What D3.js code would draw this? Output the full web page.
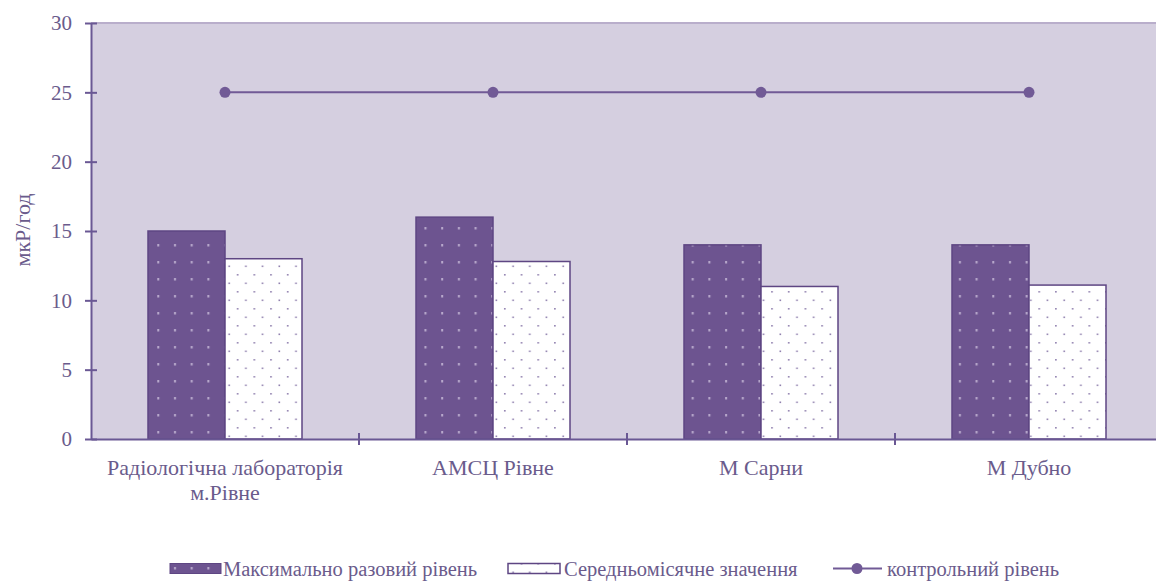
<!DOCTYPE html>
<html><head><meta charset="utf-8">
<script src="https://cdn.jsdelivr.net/npm/d3@7"></script>
<style>body{margin:0;background:#fff}svg{display:block}</style>
</head><body>
<svg id="c" width="1156" height="581"></svg>
<script>
const categories = ["Радіологічна лабораторія\nм.Рівне", "АМСЦ Рівне", "М Сарни", "М Дубно"];
const maxValues = [15, 16, 14, 14];
const meanValues = [13, 12.8, 11, 11.1];
const controlValues = [25, 25, 25, 25];
const yTicks = [0, 5, 10, 15, 20, 25, 30];
const seriesNames = ["Максимально разовий рівень", "Середньомісячне значення", "контрольний рівень"];

const W = 1156, H = 581;
const m = {left: 91, top: 23, bottom: 142};
const plotRight = 91 + 4 * 268;
const svg = d3.select("#c");
const axisCol = "#6a5894", textCol = "#6a5b8c", darkCol = "#6d5490", bgCol = "#d5cfe0";
const FONT = '"Liberation Serif"';

const defs = svg.append("defs");
const p1 = defs.append("pattern").attr("id","pd").attr("patternUnits","userSpaceOnUse")
  .attr("width",16.7).attr("height",17).attr("x",0).attr("y",0);
p1.append("rect").attr("width",16.7).attr("height",17).attr("fill",darkCol);
p1.append("rect").attr("x",7).attr("y",6).attr("width",2).attr("height",2.5).attr("fill","#b8a9cc");
const p2 = defs.append("pattern").attr("id","pw").attr("patternUnits","userSpaceOnUse")
  .attr("width",16.7).attr("height",17);
p2.append("rect").attr("width",16.7).attr("height",17).attr("fill","#fff");
p2.append("rect").attr("x",3).attr("y",2).attr("width",1.6).attr("height",1.6).attr("fill","#8f7fae");
p2.append("rect").attr("x",11.3).attr("y",10.5).attr("width",1.6).attr("height",1.6).attr("fill","#8f7fae");

const x = d3.scaleBand().domain(categories).range([m.left, plotRight]).paddingInner(0).paddingOuter(0);
const y = d3.scaleLinear().domain([0, 30]).range([H - m.bottom, m.top]);

svg.append("rect").attr("x", m.left).attr("y", y(30)).attr("width", plotRight - m.left)
  .attr("height", y(0) - y(30)).attr("fill", bgCol);
svg.append("line").attr("x1", m.left).attr("x2", plotRight).attr("y1", y(30)).attr("y2", y(30))
  .attr("stroke", "#b9aecb").attr("stroke-width", 2);

const bw = 77;
const g = svg.append("g");
categories.forEach((c, i) => {
  const cx = x(c) + x.bandwidth() / 2;
  g.append("rect").attr("x", cx - bw).attr("y", y(maxValues[i])).attr("width", bw)
    .attr("height", y(0) - y(maxValues[i])).attr("fill", "url(#pd)").attr("stroke", "#5e4683").attr("stroke-width", 1.5);
  g.append("rect").attr("x", cx).attr("y", y(meanValues[i])).attr("width", bw)
    .attr("height", y(0) - y(meanValues[i])).attr("fill", "url(#pw)").attr("stroke", "#5e4683").attr("stroke-width", 1.5);
});

const line = d3.line().x((d, i) => x(categories[i]) + x.bandwidth() / 2).y(d => y(d));
svg.append("path").datum(controlValues).attr("d", line).attr("fill", "none")
  .attr("stroke", "#715a96").attr("stroke-width", 2);
svg.selectAll(".dot").data(controlValues).enter().append("circle")
  .attr("cx", (d, i) => x(categories[i]) + x.bandwidth() / 2).attr("cy", d => y(d)).attr("r", 5.5).attr("fill", "#715a96");

// Y axis
const ya = svg.append("g").attr("transform", `translate(${m.left},0)`)
  .call(d3.axisLeft(y).tickValues(yTicks).tickSize(6).tickSizeOuter(0).tickPadding(13));
ya.select(".domain").attr("stroke", axisCol).attr("stroke-width", 2);
ya.selectAll(".tick line").attr("stroke", axisCol).attr("stroke-width", 2).attr("x2", 6).attr("x1", -6);
ya.selectAll(".tick text").attr("fill", textCol).style("font-family", FONT).style("font-size", "21px");

// X axis
const xa = svg.append("g").attr("transform", `translate(0,${y(0)})`)
  .call(d3.axisBottom(x).tickSize(0).tickFormat(""));
xa.select(".domain").attr("stroke", axisCol).attr("stroke-width", 2);
[1, 2, 3].forEach(k => {
  svg.append("line").attr("x1", m.left + k * 268).attr("x2", m.left + k * 268)
    .attr("y1", y(0) - 6).attr("y2", y(0) + 6).attr("stroke", axisCol).attr("stroke-width", 2);
});
categories.forEach(c => {
  const lines = c.split("\n");
  const t = svg.append("text").attr("text-anchor", "middle").attr("fill", textCol)
    .style("font-family", FONT).style("font-size", "22px");
  lines.forEach((l, j) => t.append("tspan").attr("x", x(c) + x.bandwidth() / 2).attr("y", 475 + j * 25).text(l));
});

svg.append("text").attr("transform", "translate(30,230) rotate(-90)").attr("text-anchor", "middle")
  .attr("fill", textCol).style("font-family", FONT).style("font-size", "22px").text("мкР/год");

// Legend
const ly = 568.5;
const lt = (xx, s) => svg.append("text").attr("x", xx).attr("y", ly + 7.5).attr("fill", textCol)
  .style("font-family", FONT).style("font-size", "20.5px").text(s);
svg.append("rect").attr("x", 170).attr("y", ly - 5).attr("width", 51).attr("height", 10).attr("fill", "url(#pd)").attr("stroke", "#5e4683");
lt(223, seriesNames[0]);
svg.append("rect").attr("x", 508).attr("y", ly - 5).attr("width", 52).attr("height", 10).attr("fill", "url(#pw)").attr("stroke", "#5e4683").attr("stroke-width", 1.5);
lt(564, seriesNames[1]);
svg.append("line").attr("x1", 833).attr("x2", 882).attr("y1", ly).attr("y2", ly).attr("stroke", "#715a96").attr("stroke-width", 2);
svg.append("circle").attr("cx", 857).attr("cy", ly).attr("r", 5.5).attr("fill", "#715a96");
lt(887, seriesNames[2]);
</script>
</body></html>
